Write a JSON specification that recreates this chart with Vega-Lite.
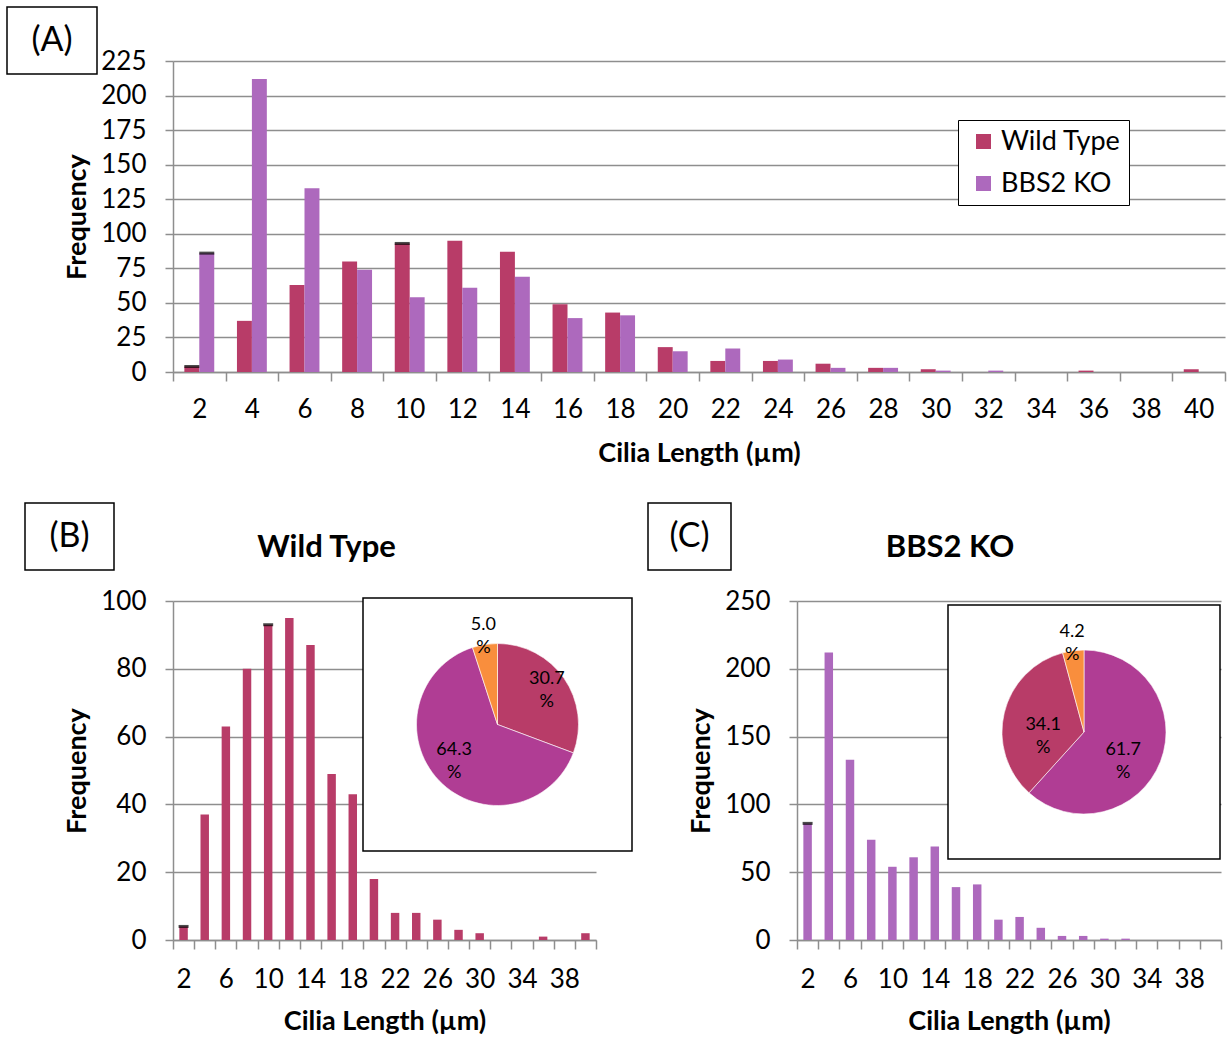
{
  "$schema": "https://vega.github.io/schema/vega-lite/v6.json",
  "background": "white",
  "padding": {"left": 6, "top": 6, "right": 0, "bottom": 0},
  "autosize": {"type": "pad"},
  "datasets": {
    "hist": [
      {"length": 2, "genotype": "Wild Type", "frequency": 4, "flag": true},
      {"length": 4, "genotype": "Wild Type", "frequency": 37, "flag": false},
      {"length": 6, "genotype": "Wild Type", "frequency": 63, "flag": false},
      {"length": 8, "genotype": "Wild Type", "frequency": 80, "flag": false},
      {"length": 10, "genotype": "Wild Type", "frequency": 93, "flag": true},
      {"length": 12, "genotype": "Wild Type", "frequency": 95, "flag": false},
      {"length": 14, "genotype": "Wild Type", "frequency": 87, "flag": false},
      {"length": 16, "genotype": "Wild Type", "frequency": 49, "flag": false},
      {"length": 18, "genotype": "Wild Type", "frequency": 43, "flag": false},
      {"length": 20, "genotype": "Wild Type", "frequency": 18, "flag": false},
      {"length": 22, "genotype": "Wild Type", "frequency": 8, "flag": false},
      {"length": 24, "genotype": "Wild Type", "frequency": 8, "flag": false},
      {"length": 26, "genotype": "Wild Type", "frequency": 6, "flag": false},
      {"length": 28, "genotype": "Wild Type", "frequency": 3, "flag": false},
      {"length": 30, "genotype": "Wild Type", "frequency": 2, "flag": false},
      {"length": 32, "genotype": "Wild Type", "frequency": 0, "flag": false},
      {"length": 34, "genotype": "Wild Type", "frequency": 0, "flag": false},
      {"length": 36, "genotype": "Wild Type", "frequency": 1, "flag": false},
      {"length": 38, "genotype": "Wild Type", "frequency": 0, "flag": false},
      {"length": 40, "genotype": "Wild Type", "frequency": 2, "flag": false},
      {"length": 2, "genotype": "BBS2 KO", "frequency": 86, "flag": true},
      {"length": 4, "genotype": "BBS2 KO", "frequency": 212, "flag": false},
      {"length": 6, "genotype": "BBS2 KO", "frequency": 133, "flag": false},
      {"length": 8, "genotype": "BBS2 KO", "frequency": 74, "flag": false},
      {"length": 10, "genotype": "BBS2 KO", "frequency": 54, "flag": false},
      {"length": 12, "genotype": "BBS2 KO", "frequency": 61, "flag": false},
      {"length": 14, "genotype": "BBS2 KO", "frequency": 69, "flag": false},
      {"length": 16, "genotype": "BBS2 KO", "frequency": 39, "flag": false},
      {"length": 18, "genotype": "BBS2 KO", "frequency": 41, "flag": false},
      {"length": 20, "genotype": "BBS2 KO", "frequency": 15, "flag": false},
      {"length": 22, "genotype": "BBS2 KO", "frequency": 17, "flag": false},
      {"length": 24, "genotype": "BBS2 KO", "frequency": 9, "flag": false},
      {"length": 26, "genotype": "BBS2 KO", "frequency": 3, "flag": false},
      {"length": 28, "genotype": "BBS2 KO", "frequency": 3, "flag": false},
      {"length": 30, "genotype": "BBS2 KO", "frequency": 1, "flag": false},
      {"length": 32, "genotype": "BBS2 KO", "frequency": 1, "flag": false},
      {"length": 34, "genotype": "BBS2 KO", "frequency": 0, "flag": false},
      {"length": 36, "genotype": "BBS2 KO", "frequency": 0, "flag": false},
      {"length": 38, "genotype": "BBS2 KO", "frequency": 0, "flag": false},
      {"length": 40, "genotype": "BBS2 KO", "frequency": 0, "flag": false}
    ],
    "pie": [
      {"genotype": "Wild Type", "lengthClass": "2–8 µm", "fromBin": 2, "share": 30.7},
      {"genotype": "Wild Type", "lengthClass": "10–20 µm", "fromBin": 10, "share": 64.3},
      {"genotype": "Wild Type", "lengthClass": "22–40 µm", "fromBin": 22, "share": 5.0},
      {"genotype": "BBS2 KO", "lengthClass": "2–8 µm", "fromBin": 2, "share": 61.7},
      {"genotype": "BBS2 KO", "lengthClass": "10–20 µm", "fromBin": 10, "share": 34.1},
      {"genotype": "BBS2 KO", "lengthClass": "22–40 µm", "fromBin": 22, "share": 4.2}
    ]
  },
  "columns": 7,
  "align": "none",
  "bounds": "flush",
  "spacing": {"row": -400, "column": -1000},
  "resolve": {"scale": {"color": "independent", "theta": "independent"}, "legend": {"color": "independent"}},
  "concat": [
    {"width": 90, "height": 67, "view": {"stroke": "black", "strokeWidth": 1.5},
     "data": {"values": [{"panel": "(A)"}]},
     "mark": {"type": "text", "font": "Lato", "fontSize": 34, "color": "black"},
     "encoding": {"text": {"field": "panel"}}},
    {"width": 1148, "height": 454, "data": {"values": []}, "mark": "point"},
    {"width": 1, "height": 1, "data": {"values": []}, "mark": "point"},
    {"width": 1, "height": 1, "data": {"values": []}, "mark": "point"},
    {"width": 1, "height": 1, "data": {"values": []}, "mark": "point"},
    {"width": 1, "height": 1, "data": {"values": []}, "mark": "point"},
    {"width": 1, "height": 1, "data": {"values": []}, "mark": "point"},

    {"width": 1018, "height": 842, "data": {"values": []}, "mark": "point"},
    {"width": 1, "height": 1, "data": {"values": []}, "mark": "point"},
    {"width": 1052, "height": 311,
     "data": {"name": "hist"},
     "encoding": {
       "x": {"field": "length", "type": "ordinal", "scale": {"paddingInner": 0, "paddingOuter": 0},
             "axis": {"title": "Cilia Length (µm)", "labelAngle": 0, "tickBand": "extent", "tickSize": 9, "labelPadding": 15, "titlePadding": 18, "labelOverlap": false}},
       "xOffset": {"field": "genotype", "type": "nominal", "scale": {"domain": ["Wild Type", "BBS2 KO"], "paddingInner": 0, "paddingOuter": 0.76}},
       "y": {"field": "frequency", "type": "quantitative", "scale": {"domain": [0, 225], "nice": false},
             "axis": {"title": "Frequency", "values": [0, 25, 50, 75, 100, 125, 150, 175, 200, 225], "grid": true, "tickSize": 8, "labelPadding": 19, "titlePadding": 9}}
     },
     "layer": [
       {"mark": {"type": "bar"},
        "encoding": {"color": {"field": "genotype", "type": "nominal",
          "scale": {"domain": ["Wild Type", "BBS2 KO"], "range": ["#B83C68", "#AD69BD"]},
          "legend": {"title": null, "orient": "none", "legendX": 785, "legendY": 59, "direction": "vertical",
                     "strokeColor": "black", "fillColor": "white", "padding": 8, "symbolOffset": 4,
                     "symbolType": "square", "symbolSize": 225, "symbolStrokeWidth": 0,
                     "labelFont": "Lato", "labelFontSize": 27, "labelColor": "black", "labelOffset": 4, "rowPadding": 14}}}},
       {"transform": [{"filter": "datum.flag"}],
        "mark": {"type": "tick", "orient": "horizontal", "color": "black", "thickness": 3, "size": 15}}
     ]},
    {"width": 1, "height": 1, "data": {"values": []}, "mark": "point"},
    {"width": 1, "height": 1, "data": {"values": []}, "mark": "point"},
    {"width": 1, "height": 1, "data": {"values": []}, "mark": "point"},
    {"width": 1, "height": 1, "data": {"values": []}, "mark": "point"},

    {"width": 1, "height": 1, "data": {"values": []}, "mark": "point"},
    {"width": 89, "height": 67, "view": {"stroke": "black", "strokeWidth": 1.5},
     "data": {"values": [{"panel": "(B)"}]},
     "mark": {"type": "text", "font": "Lato", "fontSize": 34, "color": "black"},
     "encoding": {"text": {"field": "panel"}}},
    {"width": 1, "height": 1, "data": {"values": []}, "mark": "point"},
    {"width": 1285, "height": 498, "data": {"values": []}, "mark": "point"},
    {"width": 83, "height": 67, "view": {"stroke": "black", "strokeWidth": 1.5},
     "data": {"values": [{"panel": "(C)"}]},
     "mark": {"type": "text", "font": "Lato", "fontSize": 34, "color": "black"},
     "encoding": {"text": {"field": "panel"}}},
    {"width": 1, "height": 1, "data": {"values": []}, "mark": "point"},
    {"width": 1, "height": 1, "data": {"values": []}, "mark": "point"},

    {"width": 1, "height": 1, "data": {"values": []}, "mark": "point"},
    {"width": 1, "height": 1, "data": {"values": []}, "mark": "point"},
    {"width": 423, "height": 339,
     "title": {"text": "Wild Type", "font": "Lato", "fontSize": 31, "fontWeight": "bold", "color": "black", "anchor": "middle", "frame": "group", "dx": -58, "offset": 24},
     "data": {"name": "hist"},
     "transform": [{"filter": "datum.genotype == 'Wild Type'"}],
     "encoding": {
       "x": {"field": "length", "type": "ordinal", "scale": {"paddingInner": 0, "paddingOuter": 0},
             "axis": {"title": "Cilia Length (µm)", "labelAngle": 0, "tickBand": "extent", "tickSize": 9, "labelPadding": 17, "titlePadding": 16, "labelOverlap": false,
                      "labelExpr": "(datum.value - 2) % 4 == 0 ? datum.label : ''"}},
       "y": {"field": "frequency", "type": "quantitative", "scale": {"domain": [0, 100], "nice": false},
             "axis": {"title": "Frequency", "values": [0, 20, 40, 60, 80, 100], "grid": true, "tickSize": 8, "labelPadding": 19, "titlePadding": 9}}
     },
     "layer": [
       {"mark": {"type": "bar", "color": "#B83C68", "width": {"band": 0.4}}},
       {"transform": [{"filter": "datum.flag"}],
        "mark": {"type": "tick", "orient": "horizontal", "color": "black", "thickness": 3, "size": 10}}
     ]},
    {"width": 1, "height": 1, "data": {"values": []}, "mark": "point"},
    {"width": 1149, "height": 397, "data": {"values": []}, "mark": "point"},
    {"width": 424, "height": 339,
     "title": {"text": "BBS2 KO", "font": "Lato", "fontSize": 31, "fontWeight": "bold", "color": "black", "anchor": "middle", "frame": "group", "dx": -59, "offset": 24},
     "data": {"name": "hist"},
     "transform": [{"filter": "datum.genotype == 'BBS2 KO'"}],
     "encoding": {
       "x": {"field": "length", "type": "ordinal", "scale": {"paddingInner": 0, "paddingOuter": 0},
             "axis": {"title": "Cilia Length (µm)", "labelAngle": 0, "tickBand": "extent", "tickSize": 9, "labelPadding": 17, "titlePadding": 16, "labelOverlap": false,
                      "labelExpr": "(datum.value - 2) % 4 == 0 ? datum.label : ''"}},
       "y": {"field": "frequency", "type": "quantitative", "scale": {"domain": [0, 250], "nice": false},
             "axis": {"title": "Frequency", "values": [0, 50, 100, 150, 200, 250], "grid": true, "tickSize": 8, "labelPadding": 19, "titlePadding": 9}}
     },
     "layer": [
       {"mark": {"type": "bar", "color": "#AD69BD", "width": {"band": 0.4}}},
       {"transform": [{"filter": "datum.flag"}],
        "mark": {"type": "tick", "orient": "horizontal", "color": "black", "thickness": 3, "size": 10}}
     ]},
    {"width": 1, "height": 1, "data": {"values": []}, "mark": "point"},

    {"width": 1, "height": 1, "data": {"values": []}, "mark": "point"},
    {"width": 1, "height": 1, "data": {"values": []}, "mark": "point"},
    {"width": 1, "height": 1, "data": {"values": []}, "mark": "point"},
    {"width": 269, "height": 253, "view": {"stroke": "black", "strokeWidth": 1.5, "fill": "white"},
     "data": {"name": "pie"},
     "transform": [{"filter": "datum.genotype == 'Wild Type'"}],
     "encoding": {
       "theta": {"field": "share", "type": "quantitative", "stack": true},
       "order": {"field": "fromBin", "type": "quantitative"}
     },
     "layer": [
       {"mark": {"type": "arc", "outerRadius": 81, "stroke": "white", "strokeWidth": 0.6},
        "encoding": {"color": {"field": "lengthClass", "type": "nominal", "legend": null,
          "scale": {"domain": ["2–8 µm", "10–20 µm", "22–40 µm"], "range": ["#B83C68", "#B03D94", "#F98E3D"]}}}},
       {"mark": {"type": "text", "font": "Lato", "fontSize": 18, "color": "black",
                 "dy": {"expr": "datum.share > 50 ? -16 : -11"},
                 "radius": {"expr": "datum.share < 10 ? 90 : 60"}},
        "encoding": {"text": {"field": "share", "type": "quantitative", "format": ".1f"}}},
       {"mark": {"type": "text", "font": "Lato", "fontSize": 18, "color": "black",
                 "dy": {"expr": "datum.share > 50 ? 7 : 12"},
                 "radius": {"expr": "datum.share < 10 ? 90 : 60"}},
        "encoding": {"text": {"value": "%"}}}
     ]},
    {"width": 1, "height": 1, "data": {"values": []}, "mark": "point"},
    {"width": 1151, "height": 407, "data": {"values": []}, "mark": "point"},
    {"width": 1, "height": 1, "data": {"values": []}, "mark": "point"},

    {"width": 1, "height": 1, "data": {"values": []}, "mark": "point"},
    {"width": 1, "height": 1, "data": {"values": []}, "mark": "point"},
    {"width": 1190, "height": 1, "data": {"values": []}, "mark": "point"},
    {"width": 1, "height": 1, "data": {"values": []}, "mark": "point"},
    {"width": 1, "height": 1, "data": {"values": []}, "mark": "point"},
    {"width": 1, "height": 1, "data": {"values": []}, "mark": "point"},
    {"width": 272, "height": 254, "view": {"stroke": "black", "strokeWidth": 1.5, "fill": "white"},
     "data": {"name": "pie"},
     "transform": [{"filter": "datum.genotype == 'BBS2 KO'"}],
     "encoding": {
       "theta": {"field": "share", "type": "quantitative", "stack": true},
       "order": {"field": "fromBin", "type": "quantitative"}
     },
     "layer": [
       {"mark": {"type": "arc", "outerRadius": 82, "stroke": "white", "strokeWidth": 0.6},
        "encoding": {"color": {"field": "lengthClass", "type": "nominal", "legend": null,
          "scale": {"domain": ["2–8 µm", "10–20 µm", "22–40 µm"], "range": ["#B03D94", "#B83C68", "#F98E3D"]}}}},
       {"mark": {"type": "text", "font": "Lato", "fontSize": 18, "color": "black",
                 "dy": {"expr": "datum.share < 10 ? -11 : 3"},
                 "radius": {"expr": "datum.share < 10 ? 90 : 42"}},
        "encoding": {"text": {"field": "share", "type": "quantitative", "format": ".1f"}}},
       {"mark": {"type": "text", "font": "Lato", "fontSize": 18, "color": "black",
                 "dy": {"expr": "datum.share < 10 ? 12 : 26"},
                 "radius": {"expr": "datum.share < 10 ? 90 : 42"}},
        "encoding": {"text": {"value": "%"}}}
     ]}
  ],
  "config": {
    "view": {"stroke": null},
    "font": "Lato",
    "axis": {
      "labelFont": "Lato", "labelFontSize": 26, "labelColor": "black",
      "titleFont": "Lato", "titleFontSize": 27, "titleFontWeight": "bold", "titleColor": "black",
      "domainColor": "#8E8E8E", "domainWidth": 1.5,
      "tickColor": "#8E8E8E", "tickWidth": 1.5,
      "gridColor": "#8E8E8E", "gridWidth": 1.5
    }
  }
}
